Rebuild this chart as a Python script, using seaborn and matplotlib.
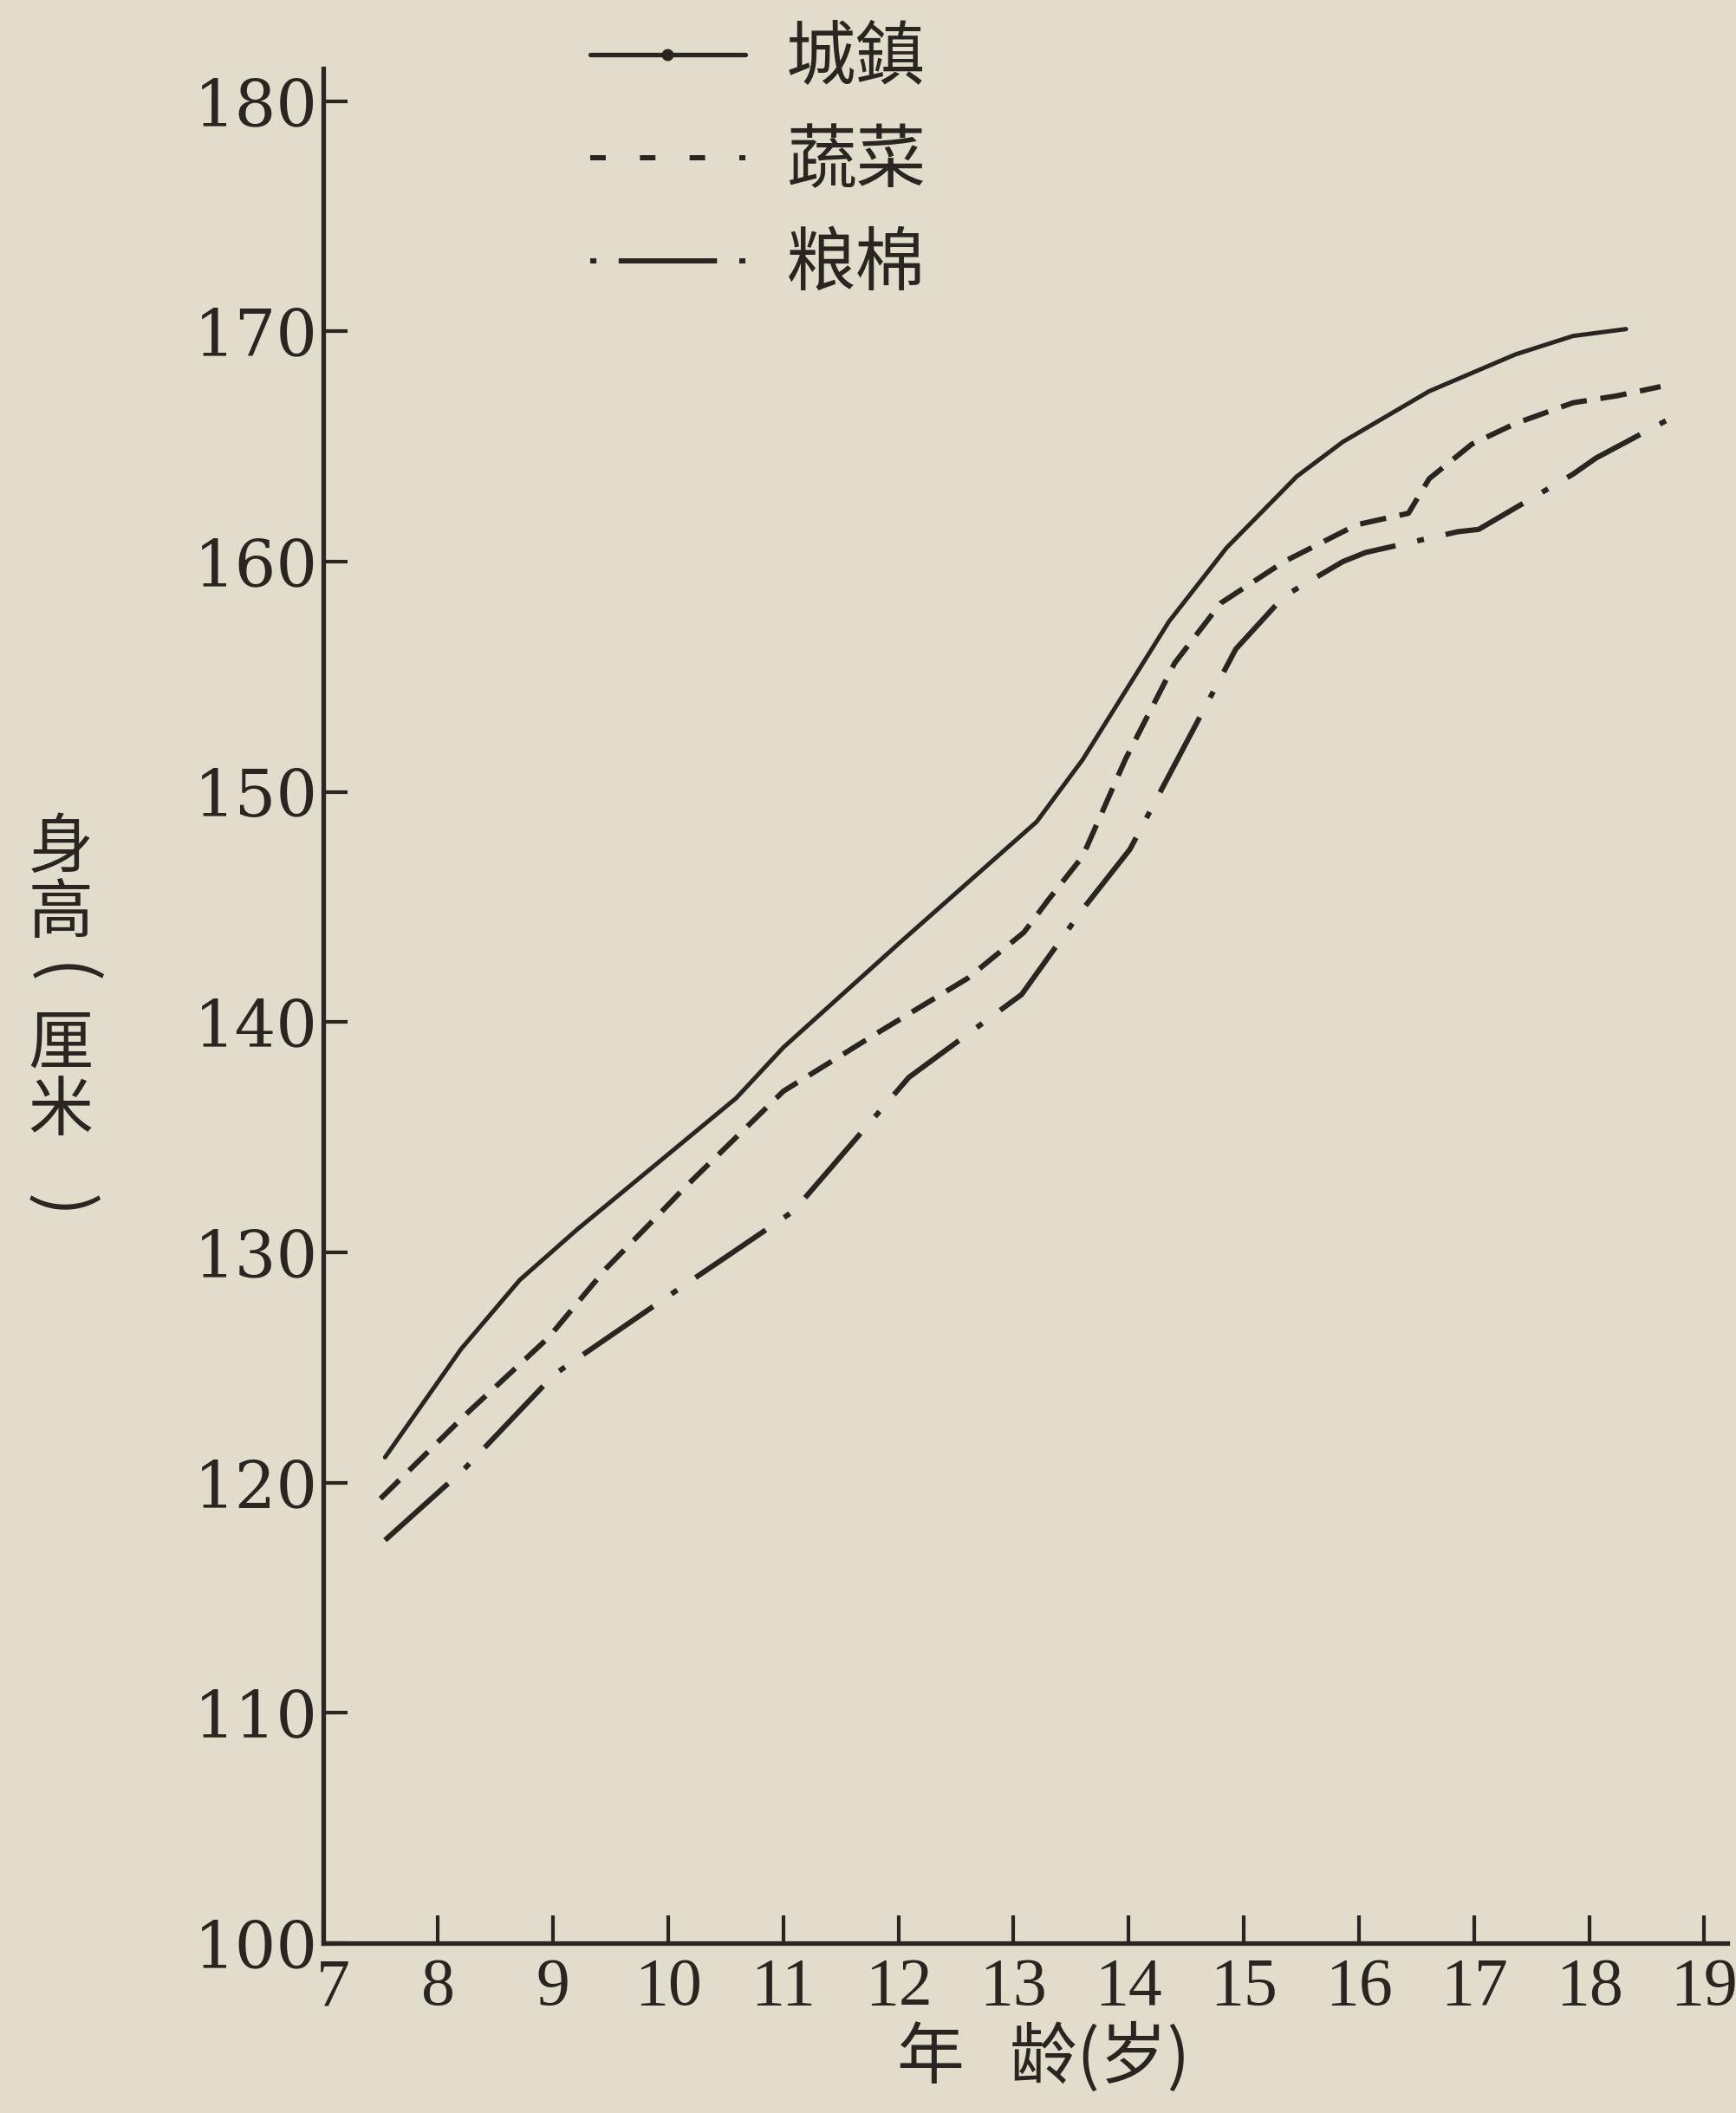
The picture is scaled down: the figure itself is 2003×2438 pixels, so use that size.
"""
Height by age for three groups of children (scanned chart, redrawn).
"""

import matplotlib

matplotlib.use("Agg")

import matplotlib.pyplot as plt
import pandas as pd
import seaborn as sns
from matplotlib.font_manager import FontProperties
from matplotlib.lines import Line2D
from matplotlib.transforms import ScaledTranslation

# values (age in years, height in cm)
town_age = [7.54, 8.2, 8.71, 9.21, 9.84, 10.59, 11.0, 12.0, 13.2, 13.6,
            14.35, 14.85, 15.46, 15.86, 16.61, 17.36, 17.86, 18.32]
town_height = [121.1, 125.8, 128.8, 131.0, 133.6, 136.7, 138.9, 143.4, 148.7, 151.4,
               157.4, 160.6, 163.7, 165.2, 167.4, 169.0, 169.8, 170.1]

veg_age = [7.50, 8.26, 8.96, 9.46, 9.91, 10.14, 11.0, 11.84, 12.6, 13.09, 13.3, 13.6,
           13.97, 14.4, 14.8, 15.35, 15.98, 16.43, 16.61, 16.98, 17.36, 17.86, 18.24, 18.62]
veg_height = [119.3, 123.05, 126.3, 129.3, 131.6, 132.8, 137.0, 139.6, 141.9, 143.9, 145.3, 147.2,
              151.4, 155.6, 158.2, 160.0, 161.6, 162.1, 163.6, 165.1, 166.0, 166.9, 167.2, 167.6]

grain_age = [7.54, 8.23, 9.01, 10.0, 10.59, 11.09, 12.09, 13.07, 13.6, 14.01,
             14.93, 15.35, 15.86, 16.06, 16.86, 17.04, 17.86, 18.06, 18.81]
grain_height = [117.5, 120.6, 124.7, 128.1, 130.1, 131.8, 137.6, 141.2, 144.9, 147.5,
                156.2, 158.5, 160.0, 160.4, 161.3, 161.4, 163.8, 164.5, 166.5]

series_names = ["城鎮", "蔬菜", "粮棉"]
x_ticks = list(range(7, 20))
y_ticks = list(range(100, 190, 10))
y_title_chars = ["身", "高", "(", "厘", "米", ")"]

PAPER = "#e1dccb"
INK = "#2a2521"
CJK = ["Noto Sans CJK SC", "DejaVu Sans"]

sns.set_theme(style="ticks")
plt.rcParams["font.family"] = ["DejaVu Serif", "Noto Sans CJK SC"]

fig = plt.figure(figsize=(20.03, 24.38), dpi=100, facecolor=PAPER)
ax = fig.add_axes([0.186, 0.0804, 0.809, 0.887], facecolor=PAPER)

town = pd.DataFrame({"age": town_age, "height": town_height})
veg = pd.DataFrame({"age": veg_age, "height": veg_height})
grain = pd.DataFrame({"age": grain_age, "height": grain_height})

sns.lineplot(data=town, x="age", y="height", ax=ax, color=INK, linewidth=3.6,
             errorbar=None, legend=False)
sns.lineplot(data=veg, x="age", y="height", ax=ax, color=INK, linewidth=4.4,
             linestyle=(0, (5.0, 2.6)), errorbar=None, legend=False)
sns.lineplot(data=grain, x="age", y="height", ax=ax, color=INK, linewidth=4.4,
             linestyle=(0, (16, 4.2, 1.3, 4.2)), errorbar=None, legend=False)

ax.set_xlim(7, 19.2)
ax.set_ylim(100, 181.4)
ax.set_xticks(x_ticks)
ax.set_yticks(y_ticks)
ax.set_xticklabels([str(v) for v in x_ticks], family="Liberation Serif", fontsize=56)
ax.set_yticklabels([str(v) for v in y_ticks], family="DejaVu Serif", fontsize=54)

sns.despine(ax=ax)
for side in ["left", "bottom"]:
    ax.spines[side].set_color(INK)
    ax.spines[side].set_linewidth(3.8)

ax.tick_params(axis="y", direction="in", length=20, width=3.0, color=INK,
               labelcolor=INK, pad=4)
ax.tick_params(axis="x", direction="in", length=23, width=3.0, color=INK,
               labelcolor=INK, pad=12)

# the "7" sits a little right of the corner in the original
first = ax.get_xticklabels()[0]
first.set_transform(first.get_transform() + ScaledTranslation(0.12, 0, fig.dpi_scale_trans))

ax.set_xlabel("年   龄(岁)", family=CJK, fontsize=56, color=INK)
ax.xaxis.set_label_coords(0.513, -0.043)
ax.set_ylabel("")

# vertical axis title, one character per row; brackets turned to lie flat
title_rows = [980, 1054, 1125, 1205, 1283, 1392]
for ch, row in zip(y_title_chars, title_rows):
    turn = -90 if ch in "()" else 0
    fig.text(70 / 2003, 1 - row / 2438, ch, family=CJK, fontsize=58 if turn else 54,
             color=INK, ha="center", va="center", rotation=turn)

handles = [
    Line2D([], [], color=INK, lw=3.8, marker="o", markersize=9),
    Line2D([], [], color=INK, lw=4.3, linestyle=(0, (3.0, 6.6))),
    Line2D([], [], color=INK, lw=4.3, linestyle=(0, (1.2, 4.3, 19.0, 4.3, 1.2, 30))),
]
fig.legend(handles, series_names, loc="upper left", bbox_to_anchor=(0.340, 0.989),
           frameon=False, borderpad=0, borderaxespad=0, numpoints=1,
           handlelength=2.22, handletextpad=0.58, labelspacing=0.45,
           labelcolor=INK, prop=FontProperties(family=CJK, size=58))

fig.savefig("out.png", dpi=100, facecolor=PAPER)
